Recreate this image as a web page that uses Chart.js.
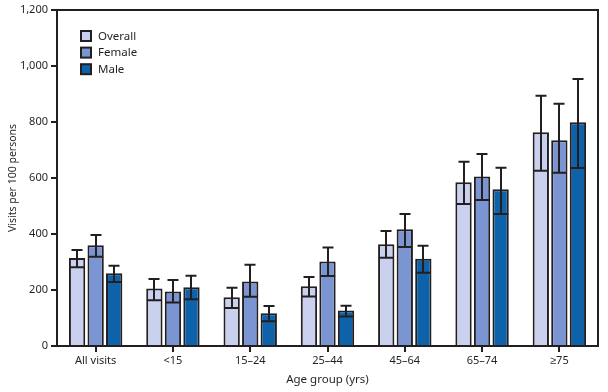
<!DOCTYPE html>
<html><head><meta charset="utf-8">
<script src="https://cdn.jsdelivr.net/npm/chart.js@4.4.0/dist/chart.umd.min.js"></script>
<style>html,body{margin:0;padding:0;background:#fff}#wrap{width:608px;height:392px}</style>
</head><body><div id="wrap"><canvas id="c" width="608" height="392"></canvas></div>
<script>
const categories = ["All visits", "<15", "15–24", "25–44", "45–64", "65–74", "≥75"];
const seriesNames = ["Overall", "Female", "Male"];
const overall = [314, 205, 174, 213, 363, 585, 763];
const overallLow = [281, 163, 136, 177, 315, 507, 626];
const overallHigh = [343, 239, 208, 246, 411, 658, 894];
const female = [360, 195, 230, 302, 417, 605, 735];
const femaleLow = [319, 155, 176, 250, 354, 521, 619];
const femaleHigh = [396, 236, 290, 352, 471, 686, 865];
const male = [260, 210, 117, 127, 312, 560, 799];
const maleLow = [229, 167, 88, 105, 262, 471, 636];
const maleHigh = [287, 251, 143, 144, 358, 637, 954];
const yTicks = [0, 200, 400, 600, 800, 1000, 1200];

const fills = ["#c9d1ee", "#7a95d2", "#0d62aa"];
const edge = "#231f20";
const FONT = "'Noto Sans', sans-serif";
const lows = [overallLow, femaleLow, maleLow];
const highs = [overallHigh, femaleHigh, maleHigh];

const errPlugin = {
  id: 'err',
  afterDatasetsDraw(chart) {
    const ctx = chart.ctx, ys = chart.scales.y;
    ctx.save();
    ctx.strokeStyle = edge; ctx.lineWidth = 2;
    chart.data.datasets.forEach((ds, i) => {
      const meta = chart.getDatasetMeta(i);
      meta.data.forEach((el, j) => {
        const x = Math.round(el.x);
        const yh = ys.getPixelForValue(highs[i][j]);
        const yl = ys.getPixelForValue(lows[i][j]);
        const w = el.width;
        ctx.beginPath();
        ctx.moveTo(x, yh); ctx.lineTo(x, yl);
        ctx.moveTo(x - 5.5, yh); ctx.lineTo(x + 5.5, yh);
        ctx.moveTo(x - w/2 + 1, yl); ctx.lineTo(x + w/2 - 1, yl);
        ctx.stroke();
      });
    });
    const a = chart.chartArea;
    ctx.lineWidth = 2;
    ctx.beginPath();
    ctx.moveTo(a.left, a.top); ctx.lineTo(a.right, a.top); ctx.lineTo(a.right, a.bottom);
    ctx.stroke();
    ctx.font = "11.5px " + FONT;
    ctx.textBaseline = 'middle';
    seriesNames.forEach((n, k) => {
      const y = 30 + k * 16.6;
      ctx.fillStyle = edge; ctx.fillRect(80, y, 12, 12);
      ctx.fillStyle = fills[k]; ctx.fillRect(82, y + 2, 8, 8);
      ctx.fillStyle = "#231f20";
      ctx.fillText(n, 98, y + 6.5);
    });
    ctx.restore();
  }
};

new Chart(document.getElementById('c'), {
  type: 'bar',
  data: {
    labels: categories,
    datasets: [overall, female, male].map((d, i) => ({
      label: seriesNames[i], data: d,
      backgroundColor: fills[i], borderColor: edge, borderWidth: 2,
      barPercentage: 0.88, categoryPercentage: 0.72
    }))
  },
  options: {
    responsive: false, animation: false,
    layout: { padding: { left: 7, right: 10, top: 10, bottom: 5 } },
    plugins: { legend: { display: false }, tooltip: { enabled: false } },
    scales: {
      x: {
        grid: { display: true, drawOnChartArea: false, offset: false, color: edge, lineWidth: 2, tickLength: 6, tickColor: edge },
        border: { display: true, color: edge, width: 2 },
        ticks: { color: "#231f20", font: { family: FONT, size: 11 }, padding: 2, maxRotation: 0, autoSkip: false },
        title: { display: true, text: "Age group (yrs)", color: "#231f20", font: { family: FONT, size: 11.5 }, padding: { top: 0, bottom: 0 } },
        afterFit(s) { s.height = 41; }
      },
      y: {
        min: 0, max: 1200,
        afterBuildTicks(s) { s.ticks = yTicks.map(v => ({ value: v })); },
        grid: { display: true, drawOnChartArea: false, color: edge, lineWidth: 2, tickLength: 6, tickColor: edge },
        border: { display: true, color: edge, width: 2 },
        ticks: { color: "#231f20", font: { family: FONT, size: 11 }, padding: 3,
          callback: v => v.toLocaleString('en-US') },
        title: { display: true, text: "Visits per 100 persons", color: "#231f20", font: { family: FONT, size: 10.5 }, padding: { top: 0, bottom: 2 } },
        afterFit(s) { s.width = 50; }
      }
    }
  },
  plugins: [errPlugin]
});
</script></body></html>
